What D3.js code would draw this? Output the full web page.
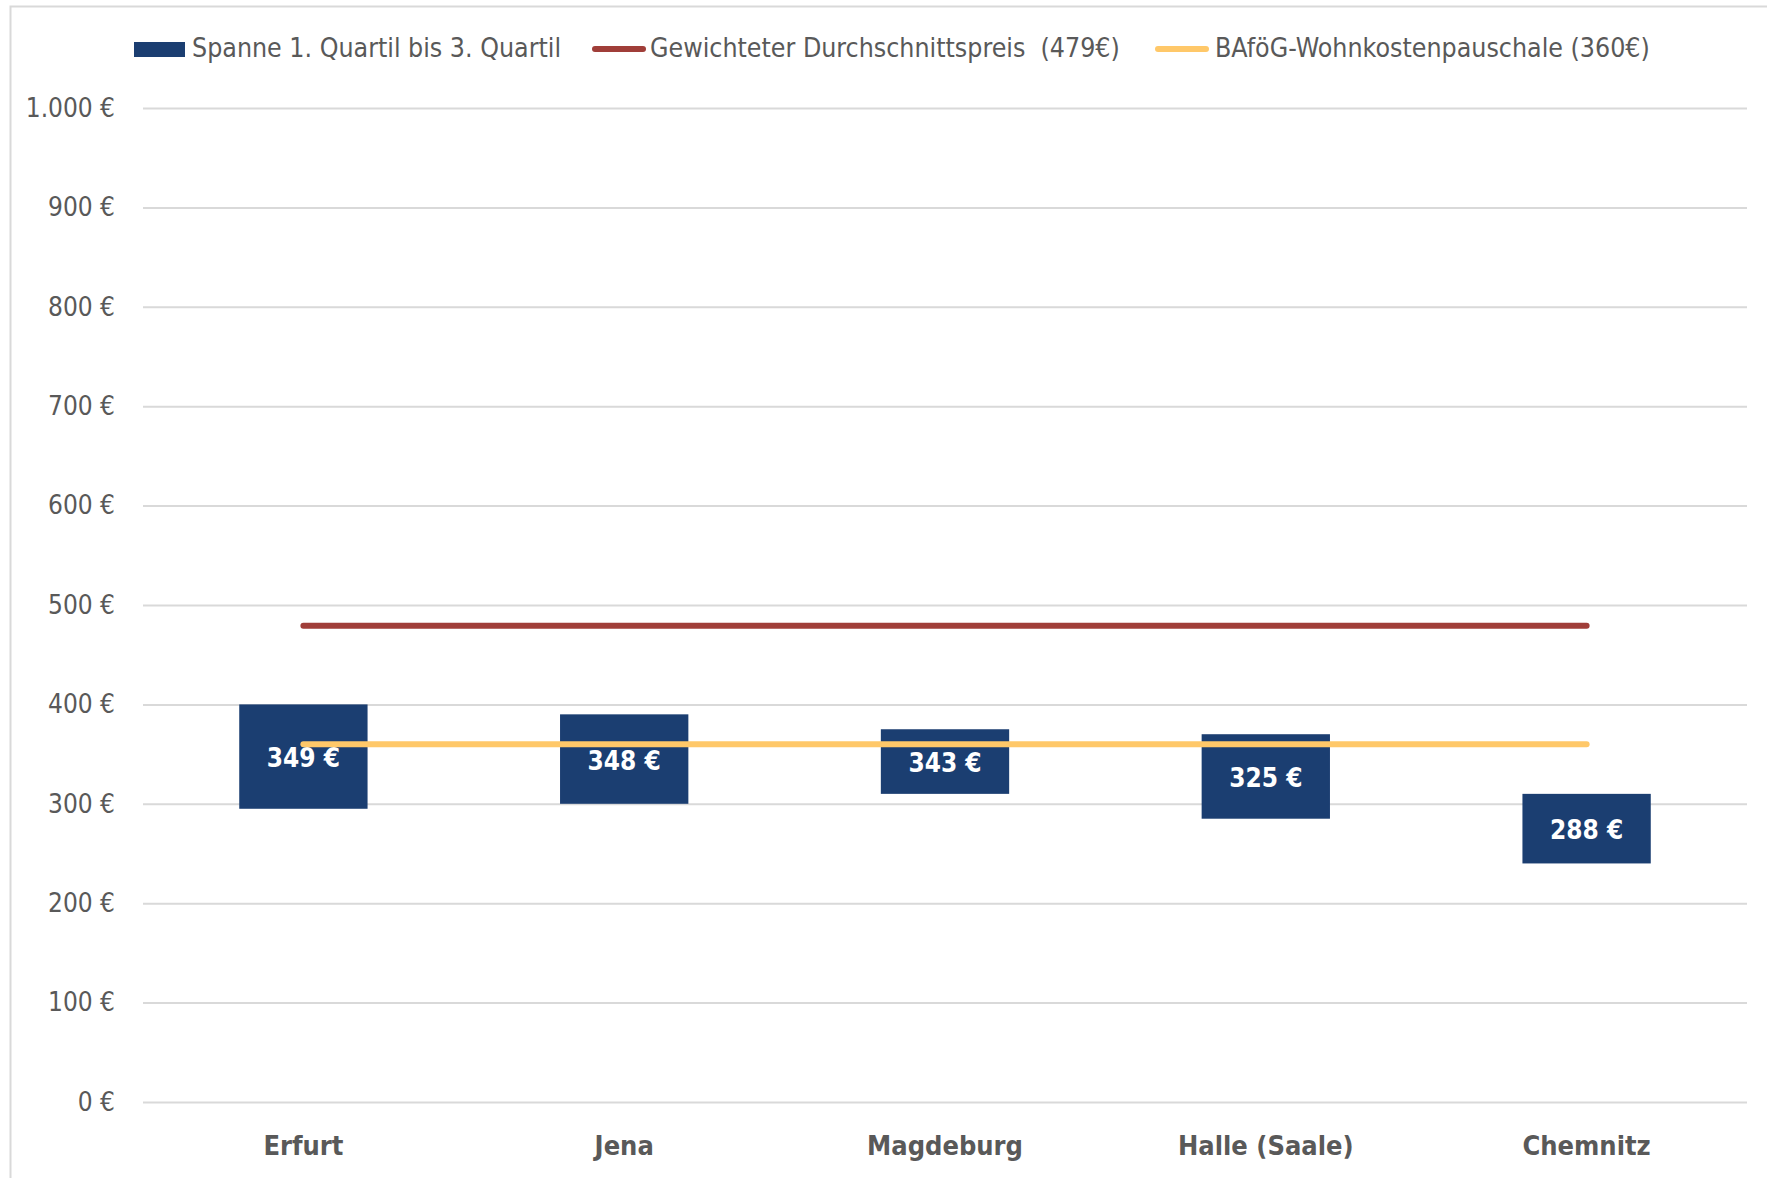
<!DOCTYPE html>
<html>
<head>
<meta charset="utf-8">
<script src="https://cdn.jsdelivr.net/npm/d3@7"></script>
<style>
  body { margin: 0; background: #fff; }
  svg text { font-family: "Liberation Sans Narrow", "DejaVu Sans Condensed", Lato, sans-serif; }
</style>
</head>
<body>
<script>
// Chart size
const width = 1767, height = 1178;
const margin = {top: 108, right: 20, bottom: 76, left: 143};

// Data
const cities = ["Erfurt", "Jena", "Magdeburg", "Halle (Saale)", "Chemnitz"];
const quartile1 = [295, 300, 310, 285, 240];
const quartile3 = [400, 390, 375, 370, 310];
const medians = [349, 348, 343, 325, 288];
const averagePrice = 479;
const bafoegRate = 360;
const yTicks = [0, 100, 200, 300, 400, 500, 600, 700, 800, 900, 1000];
const legendLabels = [
  "Spanne 1. Quartil bis 3. Quartil",
  "Gewichteter Durchschnittspreis  (479€)",
  "BAföG-Wohnkostenpauschale (360€)"
];

const colors = {bar: "#1b3e71", avg: "#a03e39", bafoeg: "#ffc869", grid: "#d9d9d9", text: "#595959"};

const svg = d3.select("body")
      .append("svg")
      .attr("width", width)
      .attr("height", height);

// Outer frame (only top and left edges show)
svg.append("rect")
    .attr("x", 10.5).attr("y", 6.5)
    .attr("width", width).attr("height", height)
    .attr("fill", "none")
    .attr("stroke", "#d9d9d9")
    .attr("stroke-width", 2);

const x = d3.scaleBand()
      .domain(cities)
      .range([margin.left, width - margin.right])
      .paddingInner(0.6)
      .paddingOuter(0.3);

const y = d3.scaleLinear()
      .domain([0, 1000])
      .range([height - margin.bottom, margin.top]);

const fmt = v => d3.format(",")(v).replace(/,/g, ".") + " €";

// Grid lines + y labels
const yAxis = svg.append("g")
      .attr("transform", `translate(${margin.left},0)`)
      .call(d3.axisLeft(y).tickValues(yTicks).tickFormat(fmt)
            .tickSize(-(width - margin.right - margin.left)).tickPadding(28));
yAxis.select(".domain").remove();
yAxis.selectAll(".tick line").attr("stroke", colors.grid).attr("stroke-width", 2);
yAxis.selectAll(".tick text")
    .attr("fill", colors.text)
    .style("font-size", "26px");

// Category labels
const xAxis = svg.append("g")
      .attr("transform", `translate(0,${height - margin.bottom})`)
      .call(d3.axisBottom(x).tickSize(0).tickPadding(34));
xAxis.select(".domain").remove();
xAxis.selectAll(".tick text")
    .attr("fill", colors.text)
    .style("font-size", "27px")
    .style("font-weight", "bold");

// Floating bars Q1..Q3
const bars = svg.append("g")
      .selectAll("g")
      .data(cities)
      .enter().append("g");

bars.append("rect")
    .attr("x", d => x(d))
    .attr("width", x.bandwidth())
    .attr("y", (d, i) => y(quartile3[i]))
    .attr("height", (d, i) => y(quartile1[i]) - y(quartile3[i]))
    .attr("fill", colors.bar);

// Reference lines from first to last category center
const x0 = x(cities[0]) + x.bandwidth() / 2;
const x1 = x(cities[cities.length - 1]) + x.bandwidth() / 2;

[[averagePrice, colors.avg], [bafoegRate, colors.bafoeg]].forEach(([v, c]) => {
  svg.append("line")
      .attr("x1", x0).attr("x2", x1)
      .attr("y1", y(v)).attr("y2", y(v))
      .attr("stroke", c)
      .attr("stroke-width", 6)
      .attr("stroke-linecap", "round");
});

// Median labels centred in bars
bars.append("text")
    .attr("x", d => x(d) + x.bandwidth() / 2)
    .attr("y", (d, i) => (y(quartile1[i]) + y(quartile3[i])) / 2 + 3)
    .attr("text-anchor", "middle")
    .attr("dominant-baseline", "middle")
    .attr("fill", "#fff")
    .style("font-size", "26px")
    .style("font-weight", "bold")
    .text((d, i) => medians[i] + " €");

// Legend
const legend = svg.append("g");
const legendY = 49;
const legendItems = [
  {label: legendLabels[0], color: colors.bar, type: "box", sx: 134, tx: 192},
  {label: legendLabels[1], color: colors.avg, type: "line", sx: 592, tx: 650},
  {label: legendLabels[2], color: colors.bafoeg, type: "line", sx: 1155, tx: 1215}
];

legendItems.forEach(it => {
  if (it.type === "box") {
    legend.append("rect")
        .attr("x", it.sx).attr("y", legendY - 7)
        .attr("width", 51).attr("height", 15)
        .attr("fill", it.color);
  } else {
    legend.append("line")
        .attr("x1", it.sx + 3).attr("x2", it.sx + 51)
        .attr("y1", legendY).attr("y2", legendY)
        .attr("stroke", it.color)
        .attr("stroke-width", 6)
        .attr("stroke-linecap", "round");
  }
  legend.append("text")
      .attr("x", it.tx).attr("y", legendY)
      .attr("dominant-baseline", "middle")
      .attr("fill", colors.text)
      .style("font-size", "26.5px")
      .style("white-space", "pre")
      .text(it.label);
});
</script>
</body>
</html>
